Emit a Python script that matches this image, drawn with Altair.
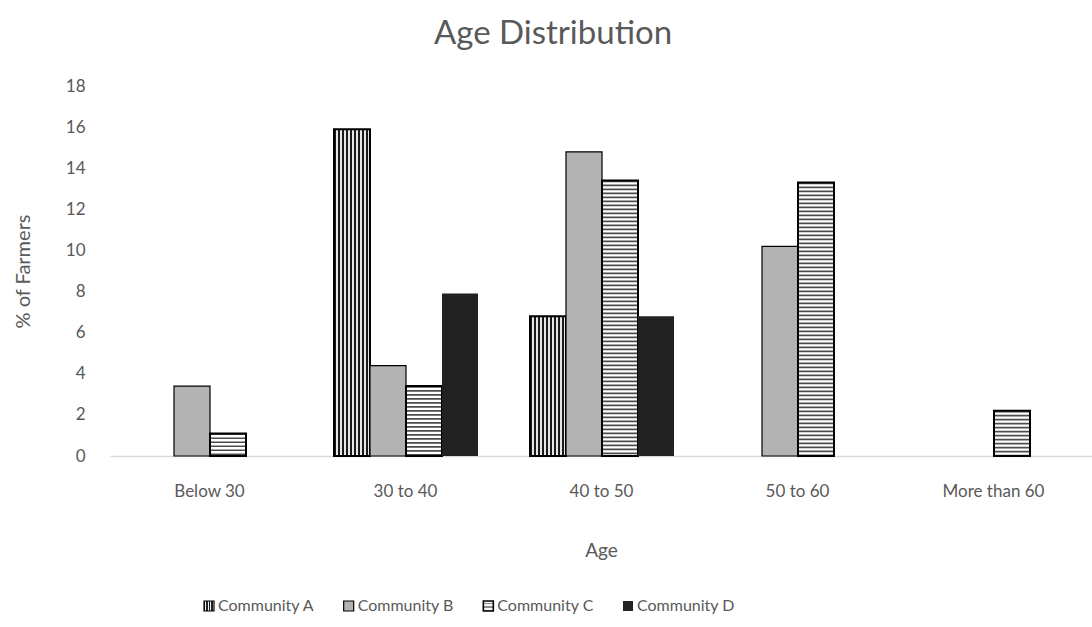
import altair as alt
import pandas as pd

# Age groups and the share of farmers (%) in each community
categories = ["Below 30", "30 to 40", "40 to 50", "50 to 60", "More than 60"]
series = ["Community A", "Community B", "Community C", "Community D"]
community_a = [0, 15.9, 6.8, 0, 0]
community_b = [3.4, 4.4, 14.8, 10.2, 0]
community_c = [1.1, 3.4, 13.4, 13.3, 2.2]
community_d = [0, 7.9, 6.8, 0, 0]

rows = []
for name, vals in zip(series, [community_a, community_b, community_c, community_d]):
    for cat, v in zip(categories, vals):
        rows.append({"age": cat, "community": name, "value": v})
df = pd.DataFrame(rows)
legend_df = pd.DataFrame({"community": series})

FONT = "Lato"
TEXT = "#595959"


def stripes(n, dark, light, frac, horizontal):
    """Hard-edged linear gradient giving n stripes across a shape."""
    stops = []
    for i in range(n):
        a = i / n
        b = (i + frac) / n
        c = (i + 1) / n
        stops += [
            alt.GradientStop(color=dark, offset=a),
            alt.GradientStop(color=dark, offset=b),
            alt.GradientStop(color=light, offset=b),
            alt.GradientStop(color=light, offset=c),
        ]
    if horizontal:
        return alt.Gradient(gradient="linear", stops=stops, x1=0, x2=1, y1=0, y2=0)
    return alt.Gradient(gradient="linear", stops=stops, x1=0, x2=0, y1=0, y2=1)


fill_a = stripes(9, "#1a1a1a", "#e6e6e6", 0.5, True)
fill_a_key = stripes(4, "#222222", "#f2f2f2", 0.5, True)
fill_c_key = stripes(3, "#f5f5f5", "#8c8c8c", 0.6, False)

base = alt.Chart(df).encode(
    x=alt.X(
        "age:N",
        sort=categories,
        scale=alt.Scale(
            domain=categories, paddingInner=0.262, paddingOuter=0.131, round=True
        ),
        axis=alt.Axis(
            title="Age",
            labelAngle=0,
            labelFont=FONT,
            labelFontSize=17,
            labelColor=TEXT,
            labelPadding=27,
            ticks=False,
            domainColor="#d9d9d9",
            domainWidth=1.5,
            titleFont=FONT,
            titleFontSize=19,
            titleFontWeight="normal",
            titleColor=TEXT,
            titlePadding=42,
        ),
    ),
    xOffset=alt.XOffset(
        "community:N",
        sort=series,
        scale=alt.Scale(domain=series, paddingInner=0, paddingOuter=0, round=True),
    ),
    y=alt.Y(
        "value:Q",
        scale=alt.Scale(domain=[0, 18], nice=False),
        axis=alt.Axis(
            title="% of Farmers",
            values=list(range(0, 19, 2)),
            grid=False,
            domain=False,
            ticks=False,
            labelFont=FONT,
            labelFontSize=17,
            labelColor=TEXT,
            labelPadding=25,
            titleFont=FONT,
            titleFontSize=20,
            titleFontWeight="normal",
            titleColor=TEXT,
            titlePadding=32,
        ),
    ),
)


def only(name):
    return f"datum.community == '{name}' && datum.value > 0"


bars_a = base.transform_filter(only("Community A")).mark_bar(
    fill=fill_a, stroke="black", strokeWidth=2
)
bars_b = base.transform_filter(only("Community B")).mark_bar(
    fill="#b3b3b3", stroke="black", strokeWidth=1.2
)
bars_c_bg = base.transform_filter(only("Community C")).mark_bar(
    fill="white", strokeWidth=0
)
# narrow horizontal hatching: a wide dashed rule running up each bar
hatch_c = (
    base.transform_filter(only("Community C"))
    .transform_calculate(zero="0")
    .mark_rule(strokeWidth=34, strokeDash=[1.6, 2.4], strokeCap="butt", color="#4d4d4d")
    .encode(y2="zero:Q")
)
bars_c_edge = base.transform_filter(only("Community C")).mark_bar(
    fill="white", fillOpacity=0, stroke="black", strokeWidth=2
)
bars_d = base.transform_filter(only("Community D")).mark_bar(fill="#222222")

plot = alt.layer(bars_a, bars_b, bars_c_bg, hatch_c, bars_c_edge, bars_d)

# legend row under the axis title
key_x = alt.X(
    "community:N",
    sort=series,
    scale=alt.Scale(domain=series, range=[99, 518], padding=0),
    axis=None,
)
key_y = alt.value(520)
key_base = alt.Chart(legend_df).encode(x=key_x, y=key_y)


def key(name, **kw):
    return key_base.transform_filter(f"datum.community == '{name}'").mark_square(
        size=100, opacity=1, **kw
    )


keys = alt.layer(
    key("Community A", fill=fill_a_key, stroke="black", strokeWidth=1.2),
    key("Community B", fill="#b3b3b3", stroke="black", strokeWidth=1.2),
    key("Community C", fill=fill_c_key, stroke="black", strokeWidth=1.6),
    key("Community D", fill="#222222"),
    key_base.mark_text(
        align="left", baseline="middle", dx=9, font=FONT, fontSize=16, color=TEXT
    ).encode(text="community:N"),
)

chart = (
    alt.layer(plot, keys)
    .resolve_scale(x="independent")
    .properties(
        width=982,
        height=370,
        view=alt.ViewBackground(stroke="transparent", strokeWidth=0),
        autosize=alt.AutoSizeParams(type="none"),
        padding={"left": 110, "top": 86, "right": 0, "bottom": 171},
        title=alt.TitleParams(
            "Age Distribution",
            font=FONT,
            fontSize=33,
            fontWeight="normal",
            color=TEXT,
            anchor="middle",
            frame="group",
            dx=-48,
            offset=26,
        ),
    )
    .configure_view(stroke="transparent", strokeWidth=0)
    .configure(background="white")
)

chart.save("out.html", embed_options={"renderer": "svg", "actions": False})
